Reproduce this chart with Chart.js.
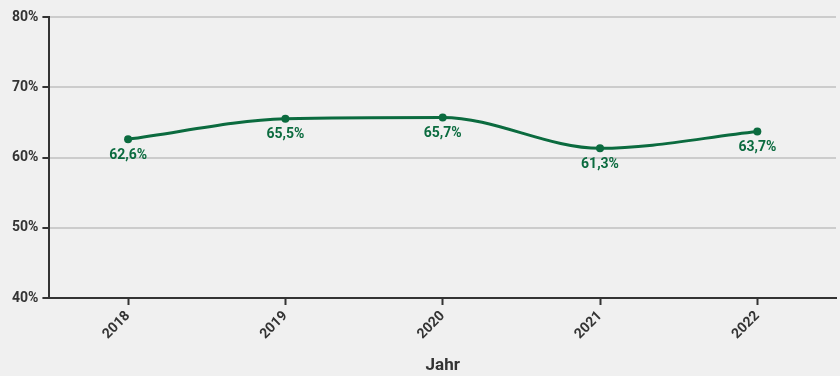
<!DOCTYPE html>
<html>
<head>
<meta charset="utf-8">
<script src="https://cdn.jsdelivr.net/npm/chart.js@4"></script>
<style>
  html, body { margin: 0; padding: 0; background: #f0f0f0; }
  #wrap { width: 840px; height: 376px; }
</style>
</head>
<body>
<div id="wrap"><canvas id="myLineChart"></canvas></div>
<script>
const jahre = ["2018", "2019", "2020", "2021", "2022"];
const anteil = [62.6, 65.5, 65.7, 61.3, 63.7];
const yTicks = [40, 50, 60, 70, 80];

const gruen = "#0b6b3f";
const dunkel = "#333333";

// Beschriftung unter den Punkten
const labelPlugin = {
  id: "pointLabels",
  afterDatasetsDraw(chart) {
    const ctx = chart.ctx;
    const meta = chart.getDatasetMeta(0);
    ctx.save();
    ctx.font = "bold 14px Roboto";
    ctx.fillStyle = gruen;
    ctx.textAlign = "center";
    ctx.textBaseline = "middle";
    meta.data.forEach((pt, i) => {
      ctx.fillText(anteil[i].toFixed(1).replace(".", ",") + "%", pt.x, pt.y + 16);
    });
    ctx.restore();
  }
};

document.addEventListener("DOMContentLoaded", function () {
  const ctx = document.getElementById("myLineChart").getContext("2d");
  new Chart(ctx, {
    type: "line",
    data: {
      labels: jahre,
      datasets: [{
        data: anteil,
        borderColor: gruen,
        backgroundColor: gruen,
        borderWidth: 3,
        cubicInterpolationMode: "monotone",
        pointRadius: 4,
        pointBackgroundColor: gruen,
        pointBorderWidth: 0,
        fill: false
      }]
    },
    options: {
      responsive: true,
      maintainAspectRatio: false,
      animation: false,
      layout: { padding: { top: 17, right: 0, left: 8, bottom: 0 } },
      plugins: {
        legend: { display: false },
        tooltip: { enabled: false }
      },
      scales: {
        x: {
          offset: true,
          border: { display: true, color: dunkel, width: 2 },
          grid: { drawOnChartArea: false, drawTicks: true, tickLength: 7, tickColor: dunkel, tickWidth: 2 },
          ticks: {
            color: dunkel,
            font: { family: "Roboto", size: 14, weight: "bold" },
            maxRotation: 45,
            minRotation: 45,
            padding: 3
          },
          title: {
            display: true,
            text: "Jahr",
            color: dunkel,
            font: { family: "Roboto", size: 17, weight: "bold" },
            padding: { top: 10, bottom: 0 }
          }
        },
        y: {
          min: 40,
          max: 80,
          afterBuildTicks: (axis) => { axis.ticks = yTicks.map(v => ({ value: v })); },
          border: { display: true, color: dunkel, width: 2 },
          grid: { color: "#cccccc", lineWidth: 2, tickLength: 7, tickColor: dunkel, tickWidth: 2 },
          ticks: {
            color: dunkel,
            font: { family: "Roboto", size: 14, weight: "bold" },
            padding: 4,
            callback: (v) => v + "%"
          }
        }
      }
    },
    plugins: [labelPlugin]
  });
});
</script>
</body>
</html>
